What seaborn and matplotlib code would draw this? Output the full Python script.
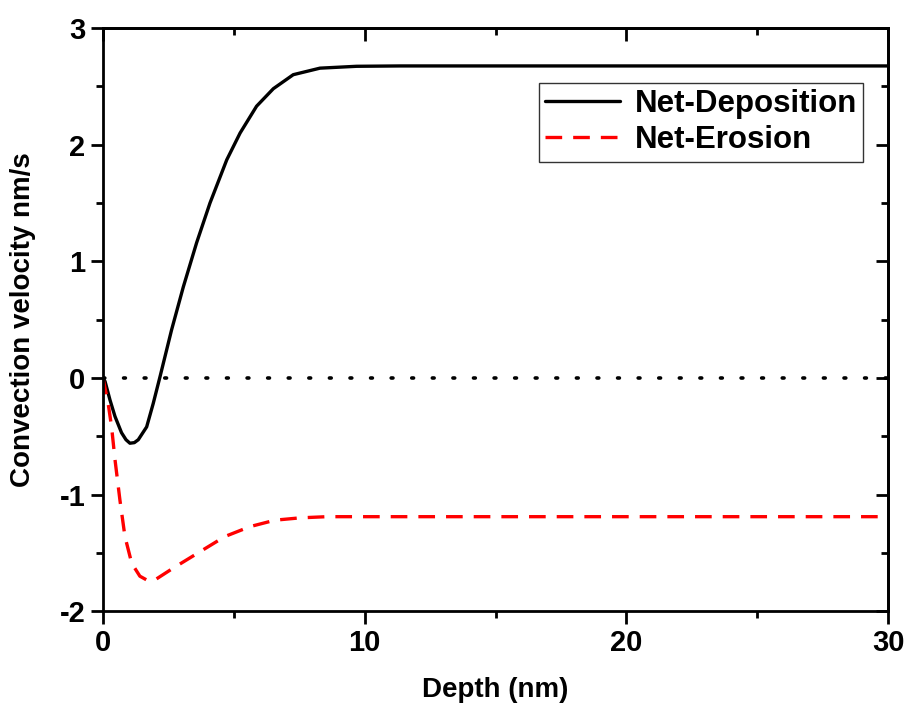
import pandas as pd
import seaborn as sns
import matplotlib.pyplot as plt

# valores
dep_depth = [0.0, 0.08, 0.27, 0.46, 0.71, 0.88, 1.03, 1.2, 1.35, 1.67, 1.92, 2.18, 2.62, 3.07, 3.58,
             4.09, 4.73, 5.24, 5.87, 6.51, 7.27, 8.29, 9.69, 11.35, 15.0, 20.0, 25.0, 30.0]
dep_vel = [0.0, -0.03, -0.19, -0.33, -0.47, -0.53, -0.56, -0.555, -0.53, -0.42, -0.22, 0.01, 0.41, 0.78, 1.16,
           1.50, 1.87, 2.10, 2.33, 2.48, 2.60, 2.656, 2.672, 2.675, 2.675, 2.675, 2.675, 2.675]

ero_depth = [0.0, 0.20, 0.33, 0.46, 0.65, 0.84, 1.10, 1.41, 1.73, 2.0, 2.69, 3.71, 4.66,
             5.62, 6.57, 7.53, 8.55, 10.0, 15.0, 20.0, 25.0, 30.0]
ero_vel = [0.0, -0.22, -0.42, -0.70, -1.05, -1.36, -1.59, -1.70, -1.74, -1.73, -1.63, -1.49, -1.36,
           -1.275, -1.22, -1.20, -1.19, -1.19, -1.19, -1.19, -1.19, -1.19]

df = pd.concat([
    pd.DataFrame({"depth": dep_depth, "vel": dep_vel, "serie": "Net-Deposition"}),
    pd.DataFrame({"depth": ero_depth, "vel": ero_vel, "serie": "Net-Erosion"}),
])

sns.set_style("ticks")
plt.rcParams['font.family'] = ['Liberation Sans', 'DejaVu Sans']
plt.rcParams['font.weight'] = 'bold'
plt.rcParams['text.color'] = 'black'
plt.rcParams['axes.labelcolor'] = 'black'
plt.rcParams['xtick.color'] = 'black'
plt.rcParams['ytick.color'] = 'black'
plt.rcParams['axes.edgecolor'] = 'black'

fig = plt.figure(figsize=(9.11, 7.19), dpi=100)
ax = fig.add_axes([0.113, 0.150, 0.862, 0.811])

sns.lineplot(data=df, x="depth", y="vel", hue="serie", style="serie",
             palette={"Net-Deposition": "black", "Net-Erosion": "#ff0000"},
             dashes={"Net-Deposition": "", "Net-Erosion": (5, 3.3)},
             linewidth=2.4, sort=False, estimator=None, ax=ax)

# linea punteada en cero
ax.plot([0, 30], [0, 0], color="black", linestyle=(0, (0.5, 5.2)), linewidth=2.6,
        dash_capstyle="round")

ax.set_xlim(0, 30)
ax.set_ylim(-2, 3)
ax.set_xticks([0, 10, 20, 30])
ax.set_xticks([5, 15, 25], minor=True)
ax.set_yticks([-2, -1, 0, 1, 2, 3])
ax.set_yticks([-1.5, -0.5, 0.5, 1.5, 2.5], minor=True)
ax.set_yticklabels(["-2", "-1", "0", "1", "2", "3"])

for s in ax.spines.values():
    s.set_linewidth(2)
    s.set_visible(True)

ax.tick_params(which="both", direction="out", width=2, labelsize=21, colors="black")
ax.tick_params(which="major", length=9)
ax.tick_params(which="minor", length=5)

# ticks de arriba y derecha hacia adentro
ax2 = ax.secondary_xaxis("top")
ax2.set_xticks([0, 10, 20, 30])
ax2.set_xticks([5, 15, 25], minor=True)
ax2.tick_params(which="both", direction="in", width=2, labeltop=False)
ax2.tick_params(which="major", length=9)
ax2.tick_params(which="minor", length=5)
ax3 = ax.secondary_yaxis("right")
ax3.set_yticks([-2, -1, 0, 1, 2, 3])
ax3.set_yticks([-1.5, -0.5, 0.5, 1.5, 2.5], minor=True)
ax3.tick_params(which="both", direction="in", width=2, labelright=False)
ax3.tick_params(which="major", length=9)
ax3.tick_params(which="minor", length=5)
ax2.spines["top"].set_linewidth(2)
ax3.spines["right"].set_linewidth(2)
ax.tick_params(which="both", top=False, right=False)

ax.set_xlabel("Depth (nm)", fontsize=20, fontweight="bold", labelpad=15)
ax.set_ylabel("Convection velocity nm/s", fontsize=20, fontweight="bold", labelpad=17)

leg = ax.legend(loc="upper right", bbox_to_anchor=(0.968, 0.906), fontsize=22.5,
                frameon=True, fancybox=False, handlelength=2.4, handletextpad=0.45,
                borderpad=0.2, labelspacing=0.2, borderaxespad=0)
leg.get_frame().set_edgecolor("black")
leg.get_frame().set_linewidth(1)
for t in leg.get_texts():
    t.set_fontweight("bold")
    t.set_color("black")

plt.savefig("out.png", dpi=100)
